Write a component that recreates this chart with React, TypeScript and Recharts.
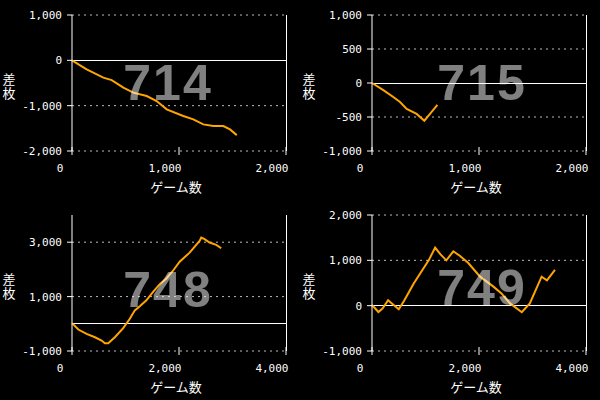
import { LineChart, Line, XAxis, YAxis, CartesianGrid, ReferenceLine } from 'recharts';

// ゲーム数 / 差枚 per machine
const games714 = [0, 137, 293, 371, 480, 573, 698, 791, 885, 1040, 1134, 1227, 1321, 1414, 1477, 1540];
const diff714 = [0, -199, -382, -435, -603, -713, -788, -898, -1082, -1229, -1302, -1413, -1450, -1450, -1523, -1650];

const games715 = [0, 106, 199, 262, 324, 417, 489, 542, 611];
const diff715 = [0, -105, -205, -280, -380, -455, -555, -455, -320];

const games748 = [0, 118, 273, 429, 553, 615, 677, 801, 957, 1081, 1174, 1267, 1391, 1516, 1640, 1764, 1888, 2012, 2199, 2385, 2416, 2478, 2571, 2696, 2789];
const diff748 = [25, -210, -370, -494, -617, -716, -716, -494, -160, 185, 494, 642, 864, 1173, 1457, 1667, 1951, 2284, 2617, 3049, 3173, 3111, 2988, 2901, 2778];

const games749 = [0, 120, 200, 300, 500, 600, 780, 960, 1060, 1180, 1280, 1390, 1520, 1640, 1800, 2020, 2270, 2420, 2580, 2800, 2950, 3170, 3270, 3420];
const diff749 = [15, -140, -60, 120, -80, 110, 490, 820, 1000, 1280, 1130, 1000, 1200, 1100, 940, 640, 420, 270, 50, -145, 50, 640, 560, 790];

const xTicks2k = [0, 1000, 2000];
const xTicks4k = [0, 2000, 4000];
const yTicks714 = [-2000, -1000, 0, 1000];
const yTicks715 = [-1000, -500, 0, 500, 1000];
const yTicks748 = [-1000, 1000, 3000];
const yTicks749 = [-1000, 0, 1000, 2000];

const zip = (g: number[], d: number[]) => g.map((v, i) => ({ g: v, d: d[i] }));

const fmt = (v: number) => v.toLocaleString('en-US');
const MONO = 'DejaVu Sans Mono';
const JP = 'Noto Sans CJK JP';

const renderXTick = (props: any) => {
  const { x, y, payload } = props;
  const v = payload.value;
  return (
    <g>
      <line x1={x} x2={x} y1={y - 4} y2={y + 4} stroke="#fff" />
      <text
        x={v === 0 ? x - 12 : x + 2.5}
        y={y + 21}
        textAnchor={v === 0 ? 'middle' : 'end'}
        fill="#fff"
        fontSize={11}
        fontFamily={MONO}
      >
        {fmt(v)}
      </text>
    </g>
  );
};

// vertical "差枚", one text run written top to bottom
const yLabel = () => (
  <text x={9} y={73} fill="#fff" fontSize={13} fontFamily={JP} letterSpacing={0.5} style={{ writingMode: 'vertical-rl' }}>
    差枚
  </text>
);

const xLabel = () => (
  <text x={176} y={192} fill="#fff" fontSize={13} fontFamily={JP} textAnchor="middle">
    ゲーム数
  </text>
);

type PanelProps = {
  left: number;
  top: number;
  data: { g: number; d: number }[];
  xMax: number;
  xTicks: number[];
  yDomain: [number, number];
  yTicks: number[];
  num: string;
  numX: number;
  numY: number;
};

function Panel({ left, top, data, xMax, xTicks, yDomain, yTicks, num, numX, numY }: PanelProps) {
  return (
    <div style={{ position: 'absolute', left, top, width: 300, height: 200 }}>
      <LineChart width={300} height={200} data={data} margin={{ top: 15, right: 14, bottom: 19, left: 0 }}>
        <CartesianGrid
          vertical={false}
          horizontalValues={yTicks.filter((t) => t !== 0)}
          stroke="#bbb"
          strokeDasharray="2 4"
        />
        <XAxis
          dataKey="g"
          type="number"
          domain={[0, xMax]}
          ticks={xTicks}
          interval={0}
          height={30}
          axisLine={false}
          tickLine={false}
          tickSize={0}
          tickMargin={0}
          tick={renderXTick}
          label={xLabel}
        />
        <YAxis
          type="number"
          domain={yDomain}
          ticks={yTicks}
          interval={0}
          width={72}
          axisLine={{ stroke: '#fff' }}
          tickLine={{ stroke: '#fff' }}
          tickSize={5}
          tickMargin={5}
          tickFormatter={fmt}
          tick={{ fill: '#fff', fontSize: 11, fontFamily: MONO }}
          label={yLabel}
        />
        <ReferenceLine y={0} stroke="#fff" shapeRendering="crispEdges" />
        <ReferenceLine x={xMax} stroke="#fff" shapeRendering="crispEdges" />
        <Line type="linear" dataKey="d" stroke="#ffa500" strokeWidth={2} dot={false} isAnimationActive={false} />
      </LineChart>
      <svg width={300} height={200} style={{ position: 'absolute', left: 0, top: 0, pointerEvents: 'none' }}>
        <text
          x={numX}
          y={numY}
          textAnchor="middle"
          fill="#fff"
          fillOpacity={0.5}
          fontSize={50}
          fontWeight="bold"
          letterSpacing={2}
          fontFamily="Liberation Sans, Arial, sans-serif"
        >
          {num}
        </text>
      </svg>
    </div>
  );
}

export default function App() {
  return (
    <div style={{ position: 'absolute', left: 0, top: 0, width: 600, height: 400, background: '#000', overflow: 'hidden' }}>
      <Panel left={0} top={0} data={zip(games714, diff714)} xMax={2000} xTicks={xTicks2k} yDomain={[-2000, 1000]} yTicks={yTicks714} num="714" numX={168} numY={100} />
      <Panel left={300} top={0} data={zip(games715, diff715)} xMax={2000} xTicks={xTicks2k} yDomain={[-1000, 1000]} yTicks={yTicks715} num="715" numX={182} numY={100} />
      <Panel left={0} top={200} data={zip(games748, diff748)} xMax={4000} xTicks={xTicks4k} yDomain={[-1000, 4000]} yTicks={yTicks748} num="748" numX={168} numY={107} />
      <Panel left={300} top={200} data={zip(games749, diff749)} xMax={4000} xTicks={xTicks4k} yDomain={[-1000, 2000]} yTicks={yTicks749} num="749" numX={182} numY={105} />
    </div>
  );
}
